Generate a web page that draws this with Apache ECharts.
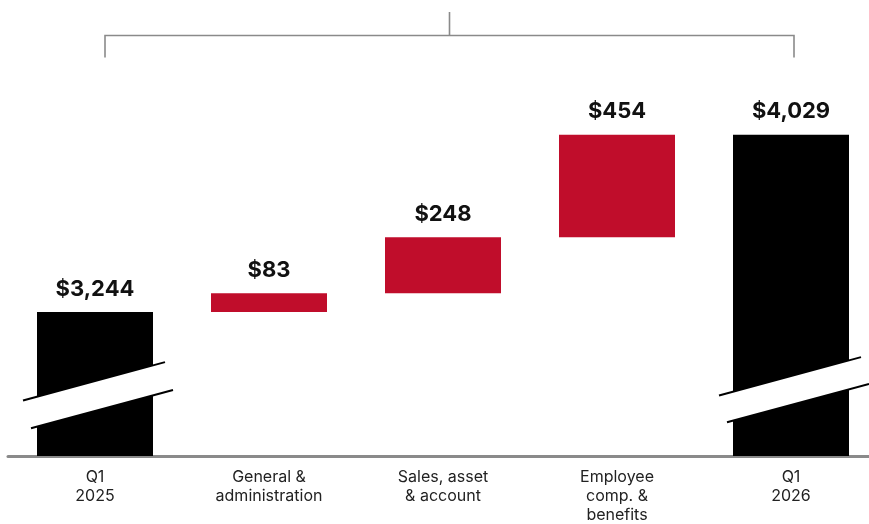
<!DOCTYPE html>
<html>
<head>
<meta charset="utf-8">
<script src="https://cdn.jsdelivr.net/npm/echarts@6/dist/echarts.min.js"></script>
<style>
html,body{margin:0;padding:0;background:#fff;}
#chart{width:869px;height:524px;}
</style>
</head>
<body>
<div id="chart"></div>
<script>
// ---- data ----
var categories = ['Q1\n2025', 'General &\nadministration', 'Sales, asset\n& account', 'Employee\ncomp. &\nbenefits', 'Q1\n2026'];
var startTotal = 3244;
var increments = [83, 248, 454];
var endTotal = 4029;
var isTotal = [true, false, false, false, true];

// ---- derived waterfall series ----
var baseVals = [0];
var deltaVals = [startTotal];
var running = startTotal;
increments.forEach(function (v) { baseVals.push(running); deltaVals.push(v); running += v; });
baseVals.push(0);
deltaVals.push(endTotal);

var RED = '#c00d2b';
var BLACK = '#000000';
var GRAY = '#8a8a8a';

// break marks for total bars: pixel offsets above baseline (style only)
var breakStyle = { 0: { up: 75, low: 45 }, 4: { up: 80, low: 51 } };
var SLOPE = -0.27;

function fmt(v) { return '$' + v.toLocaleString('en-US'); }

var chart = echarts.init(document.getElementById('chart'), null, { renderer: 'canvas' });

var option = {
  animation: false,
  backgroundColor: '#fff',
  grid: { left: 8, width: 870, top: 60, bottom: 68, containLabel: false, outerBoundsMode: 'none' },
  xAxis: {
    type: 'category',
    data: categories,
    axisTick: { show: false },
    axisLine: { show: true, lineStyle: { color: GRAY, width: 3 } },
    axisLabel: {
      interval: 0,
      margin: 12,
      color: '#222',
      fontFamily: 'Inter',
      fontSize: 16,
      lineHeight: 19,
      verticalAlign: 'top'
    }
  },
  yAxis: {
    type: 'value',
    min: 2605,
    max: 4361,
    show: false,
    splitLine: { show: false }
  },
  series: [
    {
      name: 'base',
      type: 'bar',
      stack: 'wf',
      barWidth: 116,
      itemStyle: { color: 'transparent' },
      emphasis: { disabled: true },
      data: baseVals,
      z: 1
    },
    {
      name: 'value',
      type: 'bar',
      stack: 'wf',
      barWidth: 116,
      data: deltaVals.map(function (v, i) {
        return { value: v, itemStyle: { color: isTotal[i] ? BLACK : RED } };
      }),
      label: {
        show: true,
        position: 'top',
        distance: 12,
        formatter: function (p) { return fmt(p.value); },
        fontFamily: 'Inter',
        fontWeight: 'bold',
        fontSize: 22,
        color: '#111'
      },
      z: 2
    },
    {
      name: 'breaks',
      type: 'custom',
      z: 5,
      silent: true,
      data: isTotal.map(function (t, i) { return t ? [i, 2605] : null; }).filter(function (d) { return d; }),
      renderItem: function (params, api) {
        var idx = api.value(0);
        var base = api.coord([idx, api.value(1)]);
        var cx = base[0];
        var by = base[1];
        var s = breakStyle[idx];
        var yu = by - s.up, yl = by - s.low;
        function yAt(y0, dx) { return y0 + SLOPE * dx; }
        var w = 60;
        return {
          type: 'group',
          children: [
            { type: 'polygon', shape: { points: [
                [cx - w, yAt(yu, -w)], [cx + w, yAt(yu, w)], [cx + w, yAt(yl, w)], [cx - w, yAt(yl, -w)]
              ] }, style: { fill: '#fff' } },
            { type: 'line', shape: { x1: cx - 72, y1: yAt(yu, -72), x2: cx + 70, y2: yAt(yu, 70) },
              style: { stroke: '#000', lineWidth: 2 } },
            { type: 'line', shape: { x1: cx - 64, y1: yAt(yl, -64), x2: cx + 78, y2: yAt(yl, 78) },
              style: { stroke: '#000', lineWidth: 2 } }
          ]
        };
      }
    },
    {
      name: 'bracket',
      type: 'custom',
      z: 5,
      silent: true,
      data: [[0, 4]],
      renderItem: function (params, api) {
        var xl = api.coord([api.value(0), 4000])[0] + 10;
        var xr = api.coord([api.value(1), 4000])[0] + 3;
        var xm = (xl + xr) / 2;
        var yh = 35.5, yd = 57.5, yt = 12;
        var st = { stroke: GRAY, lineWidth: 1.6, fill: null };
        return {
          type: 'group',
          children: [
            { type: 'polyline', shape: { points: [[xl, yd], [xl, yh], [xr, yh], [xr, yd]] }, style: st },
            { type: 'line', shape: { x1: xm, y1: yt, x2: xm, y2: yh }, style: st }
          ]
        };
      }
    }
  ]
};
chart.setOption(option);
</script>
</body>
</html>
